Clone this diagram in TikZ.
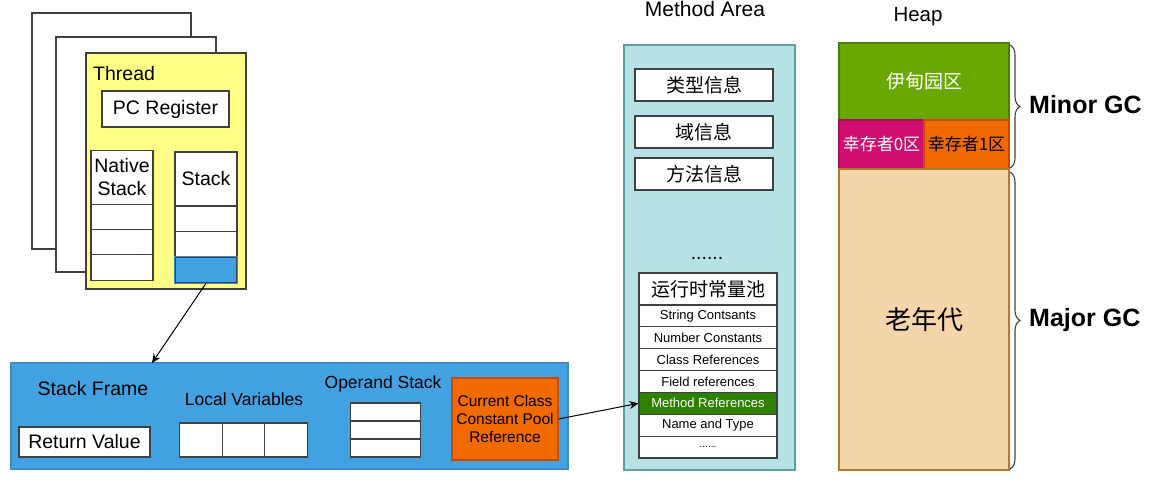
\documentclass[tikz,border=0pt]{standalone}
\usepackage{fontspec}
\setmainfont{Liberation Sans}
\newfontfamily\cjk{Noto Sans CJK SC}
\usetikzlibrary{arrows.meta,decorations.pathreplacing}

\definecolor{threadyellow}{HTML}{FFFF88}
\definecolor{stackblue}{HTML}{42A1E1}
\definecolor{stackbluedark}{HTML}{3A8BCB}
\definecolor{areacyan}{HTML}{B8E3E6}
\definecolor{areateal}{HTML}{5E9FA5}
\definecolor{refgreen}{HTML}{2F7F00}
\definecolor{edengreen}{HTML}{68A800}
\definecolor{edengreendark}{HTML}{4A7F0A}
\definecolor{survmagenta}{HTML}{CF0E6F}
\definecolor{survmagentadark}{HTML}{A5104F}
\definecolor{survorange}{HTML}{F06A00}
\definecolor{survorangedark}{HTML}{C74A00}
\definecolor{oldbeige}{HTML}{F5D5AA}
\definecolor{oldbeigedark}{HTML}{B47A30}

\tikzstyle{page}=[draw=black!75,fill=white,line width=1.1pt,inner sep=0pt]
\tikzstyle{cell}=[draw=black!75,fill=white,line width=1.1pt,inner sep=0pt,font=\fontsize{19.5}{23}\selectfont]
\tikzstyle{poolrow}=[draw=black!75,line width=1.1pt,inner sep=0pt,minimum width=138pt,font=\fontsize{13}{15}\selectfont]
\tikzstyle{message}=[inner sep=0pt,font=\fontsize{19.5}{23}\selectfont]
\tikzstyle{region}=[line width=1.1pt,inner sep=0pt]
\tikzstyle{edge}=[draw,line width=1pt,-{Stealth[length=9pt,width=8pt]}]
\tikzstyle{gc}=[inner sep=0pt,anchor=west,font=\bfseries\fontsize{25}{29}\selectfont]
\tikzstyle{curly}=[draw=black!75,line width=1.1pt,decorate,decoration={brace,amplitude=10pt}]

\begin{document}
\begin{tikzpicture}[x=1pt,y=-1pt]
\useasboundingbox (0,0) rectangle (1158,491);
% Threads, one behind the other
\foreach \pos/\name/\w/\h in {{(111.5,131)/page1/159/236}, {(136,154.5)/page2/160/235}}
  \node[page,minimum width=\w pt,minimum height=\h pt] (\name) at \pos {};
\node[page,fill=threadyellow,minimum width=160pt,minimum height=236pt] (thread) at (166,171) {};
\node[message,anchor=west] (threadlabel) at (93,74) {Thread};
\node[cell,minimum width=127pt,minimum height=36pt] (pcreg) at (165.5,109) {PC Register};
% Native stack and stack with their frames
\node[cell,minimum width=62pt,minimum height=54pt,align=center] (native) at (122,177.5) {Native\\Stack};
\foreach \i/\y in {1/217, 2/242.5, 3/267.5}
  \node[cell,minimum width=62pt,minimum height=25.5pt] (native\i) at (122,\y) {};
\node[cell,minimum width=62pt,minimum height=54pt] (stack) at (206,179) {Stack};
\foreach \i/\y/\c in {1/219/white, 2/244.5/white, 3/270/stackblue}
  \node[cell,fill=\c,minimum width=62pt,minimum height=25.5pt] (stack\i) at (206,\y) {};
\draw[stackbluedark,line width=1.1pt] (stack3.north west) rectangle (stack3.south east);
% Stack frame
\node[region,fill=stackblue,draw=stackbluedark,minimum width=557pt,minimum height=106pt] (frame) at (289.5,416) {};
\node[message] (framelabel) at (93,389) {Stack Frame};
\node[cell,minimum width=131pt,minimum height=30pt] (retval) at (84.5,442) {Return Value};
\node[message,font=\fontsize{17.5}{21}\selectfont] (locallabel) at (244,399) {Local Variables};
\foreach \i/\x in {1/201, 2/243.5, 3/286}
  \node[cell,minimum width=42.5pt,minimum height=34pt] (local\i) at (\x,440) {};
\node[message,font=\fontsize{17.5}{21}\selectfont] (operandlabel) at (383,384) {Operand Stack};
\foreach \i/\y in {1/412, 2/430, 3/448}
  \node[cell,minimum width=70pt,minimum height=18pt] (operand\i) at (385.5,\y) {};
\node[region,fill=survorange,draw=survorangedark,minimum width=106pt,minimum height=82pt,align=center,
  font=\fontsize{15.5}{18}\selectfont] (ccref) at (505,419) {Current Class\\Constant Pool\\Reference};
% Method area
\node[message,font=\fontsize{21}{24}\selectfont] (arealabel) at (705,9) {Method Area};
\node[region,fill=areacyan,draw=areateal,minimum width=171pt,minimum height=425pt] (area) at (709.5,257.5) {};
\foreach \name/\y/\la in {typeinfo/85/类型信息, fieldinfo/132/域信息, methodinfo/174/方法信息}
  \node[cell,minimum width=138pt,minimum height=32pt,font=\cjk\fontsize{19}{22}\selectfont] (\name) at (704,\y) {\la};
\node[message] (areadots) at (707,258) {......};
\node[cell,minimum width=138pt,minimum height=32pt,font=\cjk\fontsize{19}{22}\selectfont] (pool) at (708,289) {运行时常量池};
\foreach \i/\name/\fc/\tc/\la in {1/strconst/white/black/String Contsants, 2/numconst/white/black/Number Constants,
    3/classref/white/black/Class References, 4/fieldref/white/black/Field references,
    5/mref/refgreen/white/Method References, 6/nametype/white/black/Name and Type}
  \node[poolrow,fill=\fc,text=\tc,minimum height=21.85pt] (\name) at (708,{305+21.85*(\i-0.5)}) {\la};
\node[poolrow,fill=white,minimum height=21.85pt,font=\fontsize{10}{12}\selectfont] (pooldots) at (708,447.1) {......};
% Heap
\node[message,font=\fontsize{20.5}{24}\selectfont] (heaplabel) at (918,17) {Heap};
\node[region,fill=edengreen,draw=edengreendark,minimum width=170pt,minimum height=77pt,text=white,
  font=\cjk\fontsize{19}{22}\selectfont] (eden) at (924,81.5) {伊甸园区};
\node[region,fill=survmagenta,draw=survmagentadark,minimum width=85pt,minimum height=49pt,text=white,
  font=\cjk\fontsize{17}{20}\selectfont] (surv0) at (881.5,144.5) {幸存者0区};
\node[region,fill=survorange,draw=survorangedark,minimum width=85pt,minimum height=49pt,
  font=\cjk\fontsize{17}{20}\selectfont] (surv1) at (966.5,144.5) {幸存者1区};
\node[region,fill=oldbeige,draw=oldbeigedark,minimum width=170pt,minimum height=301pt,
  font=\cjk\fontsize{26}{30}\selectfont] (old) at (924,319.5) {老年代};
% Garbage collections
\coordinate (minortop) at (1010,45);
\coordinate (minorbot) at (1010,168);
\coordinate (majortop) at (1010,172);
\coordinate (majorbot) at (1010,469);
\draw[curly] (minortop) -- (minorbot);
\draw[curly] (majortop) -- (majorbot);
\node[gc] (minorgc) at (1029,105) {Minor GC};
\node[gc] (majorgc) at (1029,320) {Major GC};
% References
\coordinate (frametop) at (152,363);
\path[edge] (stack3.south) -- (frametop);
\path[edge] (ccref.east) -- (mref.west);
\end{tikzpicture}
\end{document}
